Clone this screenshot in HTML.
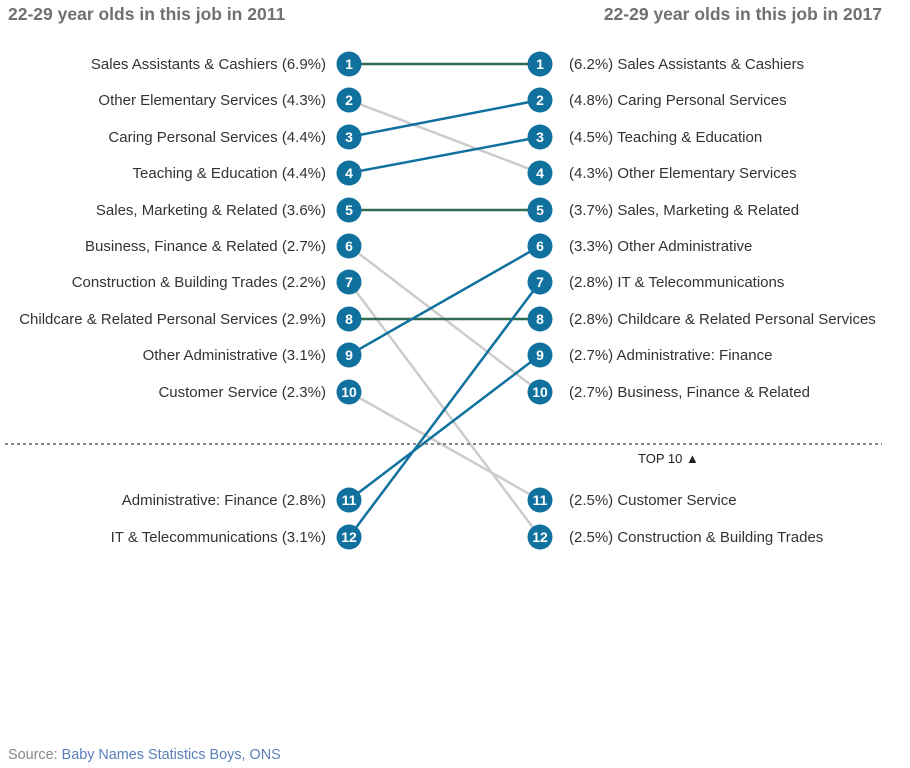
<!DOCTYPE html>
<html><head><meta charset="utf-8"><style>
html,body{margin:0;padding:0;background:#fff;width:910px;height:768px;overflow:hidden}
svg text{font-family:"Liberation Sans",sans-serif}
</style></head><body>
<svg width="910" height="768" xmlns="http://www.w3.org/2000/svg">
<text x="8" y="20" font-size="17.5" font-weight="bold" fill="#707070">22-29 year olds in this job in 2011</text>
<text x="882" y="20" font-size="17.5" font-weight="bold" fill="#707070" text-anchor="end">22-29 year olds in this job in 2017</text>
<g stroke-width="2.5" fill="none">
<line x1="349" y1="64" x2="540" y2="64" stroke="#2e6b4f"/>
<line x1="349" y1="100" x2="540" y2="173" stroke="#cccccc"/>
<line x1="349" y1="246" x2="540" y2="392" stroke="#cccccc"/>
<line x1="349" y1="282" x2="540" y2="537" stroke="#cccccc"/>
<line x1="349" y1="392" x2="540" y2="500" stroke="#cccccc"/>
<line x1="349" y1="210" x2="540" y2="210" stroke="#2e6b4f"/>
<line x1="349" y1="319" x2="540" y2="319" stroke="#2e6b4f"/>
<line x1="349" y1="137" x2="540" y2="100" stroke="#10719e"/>
<line x1="349" y1="173" x2="540" y2="137" stroke="#10719e"/>
<line x1="349" y1="355" x2="540" y2="246" stroke="#10719e"/>
<line x1="349" y1="500" x2="540" y2="355" stroke="#10719e"/>
<line x1="349" y1="537" x2="540" y2="282" stroke="#10719e"/>
</g>
<line x1="5" y1="444" x2="882" y2="444" stroke="#888" stroke-width="2" stroke-dasharray="3,3"/>
<text x="638" y="463" font-size="13" fill="#222">TOP 10 ▲</text>
<g font-size="15" fill="#333" text-anchor="end">
<text x="326" y="69">Sales Assistants &amp; Cashiers (6.9%)</text>
<text x="326" y="105">Other Elementary Services (4.3%)</text>
<text x="326" y="142">Caring Personal Services (4.4%)</text>
<text x="326" y="178">Teaching &amp; Education (4.4%)</text>
<text x="326" y="215">Sales, Marketing &amp; Related (3.6%)</text>
<text x="326" y="251">Business, Finance &amp; Related (2.7%)</text>
<text x="326" y="287">Construction &amp; Building Trades (2.2%)</text>
<text x="326" y="324">Childcare &amp; Related Personal Services (2.9%)</text>
<text x="326" y="360">Other Administrative (3.1%)</text>
<text x="326" y="397">Customer Service (2.3%)</text>
<text x="326" y="505">Administrative: Finance (2.8%)</text>
<text x="326" y="542">IT &amp; Telecommunications (3.1%)</text>
</g>
<g font-size="15" fill="#333">
<text x="569" y="69">(6.2%) Sales Assistants &amp; Cashiers</text>
<text x="569" y="105">(4.8%) Caring Personal Services</text>
<text x="569" y="142">(4.5%) Teaching &amp; Education</text>
<text x="569" y="178">(4.3%) Other Elementary Services</text>
<text x="569" y="215">(3.7%) Sales, Marketing &amp; Related</text>
<text x="569" y="251">(3.3%) Other Administrative</text>
<text x="569" y="287">(2.8%) IT &amp; Telecommunications</text>
<text x="569" y="324">(2.8%) Childcare &amp; Related Personal Services</text>
<text x="569" y="360">(2.7%) Administrative: Finance</text>
<text x="569" y="397">(2.7%) Business, Finance &amp; Related</text>
<text x="569" y="505">(2.5%) Customer Service</text>
<text x="569" y="542">(2.5%) Construction &amp; Building Trades</text>
</g>
<g fill="#10719e">
<circle cx="349" cy="64" r="12.5"/><circle cx="349" cy="100" r="12.5"/><circle cx="349" cy="137" r="12.5"/><circle cx="349" cy="173" r="12.5"/><circle cx="349" cy="210" r="12.5"/><circle cx="349" cy="246" r="12.5"/><circle cx="349" cy="282" r="12.5"/><circle cx="349" cy="319" r="12.5"/><circle cx="349" cy="355" r="12.5"/><circle cx="349" cy="392" r="12.5"/><circle cx="349" cy="500" r="12.5"/><circle cx="349" cy="537" r="12.5"/>
<circle cx="540" cy="64" r="12.5"/><circle cx="540" cy="100" r="12.5"/><circle cx="540" cy="137" r="12.5"/><circle cx="540" cy="173" r="12.5"/><circle cx="540" cy="210" r="12.5"/><circle cx="540" cy="246" r="12.5"/><circle cx="540" cy="282" r="12.5"/><circle cx="540" cy="319" r="12.5"/><circle cx="540" cy="355" r="12.5"/><circle cx="540" cy="392" r="12.5"/><circle cx="540" cy="500" r="12.5"/><circle cx="540" cy="537" r="12.5"/>
</g>
<g font-size="14" font-weight="bold" fill="#fff" text-anchor="middle">
<text x="349" y="69">1</text><text x="349" y="105">2</text><text x="349" y="142">3</text><text x="349" y="178">4</text><text x="349" y="215">5</text><text x="349" y="251">6</text><text x="349" y="287">7</text><text x="349" y="324">8</text><text x="349" y="360">9</text><text x="349" y="397">10</text><text x="349" y="505">11</text><text x="349" y="542">12</text>
<text x="540" y="69">1</text><text x="540" y="105">2</text><text x="540" y="142">3</text><text x="540" y="178">4</text><text x="540" y="215">5</text><text x="540" y="251">6</text><text x="540" y="287">7</text><text x="540" y="324">8</text><text x="540" y="360">9</text><text x="540" y="397">10</text><text x="540" y="505">11</text><text x="540" y="542">12</text>
</g>
<text x="8" y="759" font-size="14.4" fill="#888">Source: <tspan fill="#5b80b9">Baby Names Statistics Boys, ONS</tspan></text>
</svg>
</body></html>
